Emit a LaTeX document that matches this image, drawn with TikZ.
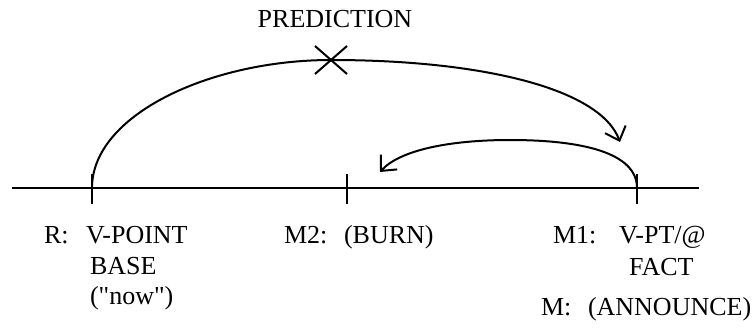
\documentclass[tikz,border=0pt]{standalone}
\usepackage{fontspec}
\setmainfont{Liberation Serif}
\newfontfamily\qfont{Liberation Serif}
\usetikzlibrary{arrows.meta}
\begin{document}
\begin{tikzpicture}[x=1pt,y=1pt,line width=2pt,
	lbl/.style={anchor=base west,inner sep=0pt,font=\fontsize{26}{31}\selectfont},
	barb/.style={-{Straight Barb[length=12pt,width=22pt]}}]
	\useasboundingbox (0,0) rectangle (753,330);
	\path
	(12,142) coordinate (L)
	(699,142) coordinate (E)
	(92,142) coordinate (R)
	(347,142) coordinate (M2)
	(637,142) coordinate (M1)
	(331,270) coordinate (P);
	
	\draw (L)--(E);
	\foreach \t in {R,M2,M1}
		\draw ([yshift=14pt]\t)--([yshift=-16pt]\t);
	
	% prediction arc
	\draw[barb] (R) .. controls (92,215) and (210,270) .. (P)
		.. controls (480,270) and (600,242) .. (620,188);
	\draw ([shift={(-16,-14)}]P)--([shift={(16,14)}]P);
	\draw ([shift={(-16,14)}]P)--([shift={(16,-14)}]P);
	
	% back arc
	\draw[barb] (M1) .. controls (637,178) and (580,190) .. (510,190)
		.. controls (450,190) and (400,180) .. (380,158);
	
	\node[lbl,anchor=base] (pred) at (335,302) {PREDICTION};
	
	\node[lbl] (rk) at (43,87) {R:};
	\node[lbl] (rv) at (85,87) {V-POINT};
	\node[lbl] (rb) at (89,56) {BASE};
	\node[lbl] (rn) at (89,26) {{\qfont("now")}};
	
	\node[lbl] (m2k) at (283,87) {M2:};
	\node[lbl] (m2v) at (343,87) {(BURN)};
	
	\node[lbl] (m1k) at (552,87) {M1:};
	\node[lbl] (m1v) at (618,87) {V-PT/@};
	\node[lbl] (m1f) at (628,55) {FACT};
	
	\node[lbl] (mk) at (540,15) {M:};
	\node[lbl] (mv) at (587,15) {(ANNOUNCE)};
\end{tikzpicture}
\end{document}
